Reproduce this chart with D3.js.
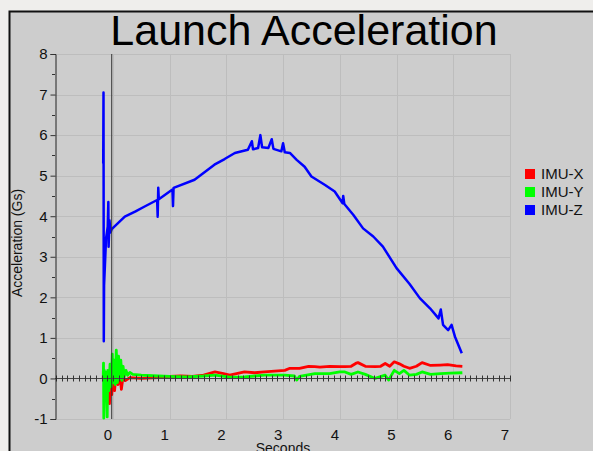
<!DOCTYPE html>
<head>
  <meta charset="utf-8">
  <title>Launch Acceleration</title>
  <script src="https://d3js.org/d3.v7.min.js"></script>
  <style>
    body { margin:0; background:#efeeec; overflow:hidden; }
    svg { display:block; font-family:"Liberation Sans", Arial, sans-serif; }
  </style>
</head>
<body>
  <svg width="593" height="451"></svg>
  <script>
    var width = 593;
    var height = 451;
    var margin = {top: 54, bottom: 32, left: 55, right: 83};

    var xTicks = [0, 1, 2, 3, 4, 5, 6, 7];
    var yTicks = [-1, 0, 1, 2, 3, 4, 5, 6, 7, 8];
    var seriesNames = ['IMU-X', 'IMU-Y', 'IMU-Z'];
    var seriesColors = ['#ff0000', '#00ff00', '#0000ff'];
    var launchTime = -0.02;

    // [seconds, Gs]
    var imuX = [[-0.17, 0.0], [-0.16, 0.15], [-0.14, -0.3], [-0.12, 0.1], [-0.1, -0.45], [-0.08, 0.1],
      [-0.06, -0.62], [-0.04, 0.05], [-0.02, -0.4], [0.0, 0.1], [0.03, -0.3], [0.06, 0.2], [0.09, -0.15],
      [0.12, 0.15], [0.15, -0.27], [0.18, 0.05], [0.22, -0.05], [0.3, 0.02], [0.5, 0.0], [0.8, 0.02],
      [1.0, 0.05], [1.2, 0.06], [1.4, 0.05], [1.6, 0.08], [1.8, 0.16], [1.95, 0.12], [2.06, 0.08],
      [2.32, 0.16], [2.5, 0.14], [2.67, 0.16], [2.85, 0.18], [3.03, 0.2], [3.12, 0.25], [3.29, 0.25],
      [3.45, 0.3], [3.56, 0.29], [3.65, 0.28], [3.82, 0.3], [4.0, 0.29], [4.09, 0.29], [4.2, 0.3],
      [4.28, 0.37], [4.32, 0.39], [4.45, 0.3], [4.62, 0.29], [4.72, 0.3], [4.8, 0.37], [4.88, 0.3],
      [4.96, 0.41], [5.05, 0.36], [5.13, 0.3], [5.23, 0.25], [5.35, 0.3], [5.45, 0.39], [5.6, 0.32],
      [5.77, 0.33], [5.9, 0.34], [6.05, 0.31], [6.16, 0.3]];
    var imuY = [[-0.17, 0.0], [-0.165, 0.38], [-0.16, -0.98], [-0.15, 0.2], [-0.14, -0.5], [-0.12, 0.15],
      [-0.1, -0.95], [-0.09, 0.2], [-0.07, -0.3], [-0.05, 0.35], [-0.03, -0.2], [-0.01, 0.6], [0.0, -0.1],
      [0.02, 0.45], [0.04, -0.15], [0.06, 0.7], [0.08, -0.1], [0.1, 0.55], [0.12, 0.0], [0.14, 0.45],
      [0.16, -0.05], [0.18, 0.3], [0.2, 0.05], [0.23, 0.2], [0.26, 0.08], [0.3, 0.15], [0.35, 0.1],
      [0.5, 0.08], [0.8, 0.06], [1.0, 0.05], [1.3, 0.04], [1.6, 0.06], [1.8, 0.08], [2.06, 0.03],
      [2.32, 0.04], [2.5, 0.06], [2.67, 0.08], [3.03, 0.08], [3.2, 0.06], [3.24, -0.04], [3.29, 0.05],
      [3.56, 0.12], [3.82, 0.12], [4.0, 0.16], [4.09, 0.16], [4.2, 0.1], [4.32, 0.16], [4.45, 0.1],
      [4.62, 0.0], [4.8, 0.08], [4.86, -0.04], [4.96, 0.2], [5.05, 0.12], [5.13, 0.2], [5.23, 0.08],
      [5.35, 0.1], [5.45, 0.16], [5.6, 0.1], [5.77, 0.12], [5.95, 0.13], [6.16, 0.14]];
    var imuZ = [[-0.17, 5.3], [-0.165, 7.05], [-0.16, 0.92], [-0.155, 2.3], [-0.12, 3.45], [-0.09, 3.75],
      [-0.08, 4.35], [-0.075, 3.25], [-0.06, 3.9], [-0.04, 3.6], [-0.02, 3.68], [0.21, 3.99], [0.4, 4.12],
      [0.56, 4.24], [0.78, 4.4], [0.79, 3.99], [0.8, 4.7], [0.81, 4.42], [1.05, 4.66], [1.06, 4.25],
      [1.07, 4.7], [1.44, 4.9], [1.79, 5.27], [1.97, 5.41], [2.15, 5.56], [2.38, 5.64], [2.45, 5.85],
      [2.47, 5.65], [2.56, 5.68], [2.6, 6.0], [2.63, 5.7], [2.74, 5.68], [2.8, 5.9], [2.83, 5.66],
      [2.97, 5.6], [3.0, 5.8], [3.03, 5.58], [3.12, 5.56], [3.24, 5.39], [3.38, 5.22], [3.5, 4.98],
      [3.74, 4.77], [3.91, 4.61], [4.05, 4.32], [4.06, 4.5], [4.08, 4.3], [4.24, 4.03], [4.41, 3.7],
      [4.59, 3.5], [4.76, 3.25], [5.0, 2.72], [5.23, 2.33], [5.41, 1.98], [5.59, 1.73], [5.74, 1.48],
      [5.78, 1.7], [5.82, 1.32], [5.91, 1.19], [5.97, 1.32], [6.03, 1.03], [6.15, 0.62]];
    var series = [imuX, imuY, imuZ];
    var strokeWidths = [2.8, 2.8, 2.5];

    var svg = d3.select('svg');

    // grey panel with dark top/left edge
    svg.append('rect').attr('x', 9).attr('y', 11).attr('width', width).attr('height', height)
      .attr('fill', '#cdcdcd');
    svg.append('path').attr('d', 'M9.5,' + height + 'V11.5H' + width)
      .attr('fill', 'none').attr('stroke', '#111').attr('stroke-width', 2);

    var xScale = d3.scaleLinear()
      .domain([-1.02, 7])
      .range([margin.left, width - margin.right]);
    var yScale = d3.scaleLinear()
      .domain([-1, 8])
      .range([height - margin.bottom, margin.top]);

    // grid
    var grid = svg.append('g').attr('stroke', '#bdbdbd').attr('stroke-width', 1);
    grid.selectAll('.gx').data(xTicks).enter().append('line')
      .attr('x1', d => Math.round(xScale(d)) + 0.5).attr('x2', d => Math.round(xScale(d)) + 0.5)
      .attr('y1', yScale(8)).attr('y2', yScale(-1));
    grid.selectAll('.gy').data(yTicks).enter().append('line')
      .attr('y1', d => Math.round(yScale(d)) + 0.5).attr('y2', d => Math.round(yScale(d)) + 0.5)
      .attr('x1', xScale.range()[0]).attr('x2', xScale.range()[1]);

    // data lines
    var line = d3.line()
      .x(d => xScale(d[0]))
      .y(d => yScale(d[1]));
    series.forEach((s, i) => {
      svg.append('path')
        .attr('d', line(s))
        .attr('fill', 'none')
        .attr('stroke', seriesColors[i])
        .attr('stroke-width', strokeWidths[i])
        .attr('stroke-linejoin', 'round');
    });

    // launch marker
    svg.append('line')
      .attr('x1', xScale(launchTime)).attr('x2', xScale(launchTime))
      .attr('y1', yScale(8)).attr('y2', yScale(-1))
      .attr('stroke', '#333').attr('stroke-width', 1);

    // zero line with minor ticks every 0.1 s
    var y0 = Math.round(yScale(0)) + 0.5;
    svg.append('line')
      .attr('x1', xScale.range()[0]).attr('x2', xScale.range()[1])
      .attr('y1', y0).attr('y2', y0)
      .attr('stroke', '#444').attr('stroke-width', 1);
    var minor = d3.range(-10, 71).map(d => d / 10);
    svg.append('g').selectAll('line').data(minor).enter().append('line')
      .attr('x1', d => Math.round(xScale(d)) + 0.5).attr('x2', d => Math.round(xScale(d)) + 0.5)
      .attr('y1', y0 - 3).attr('y2', y0 + 3)
      .attr('stroke', '#333').attr('stroke-width', 1);

    // y axis
    var yAxis = d3.axisLeft(yScale)
      .tickValues(yTicks)
      .tickFormat(d => String(d))
      .tickSize(5)
      .tickPadding(3);
    var gy = svg.append('g')
      .attr('transform', 'translate(' + [margin.left + 0.5, 0] + ')')
      .call(yAxis);
    gy.select('.domain').attr('stroke', '#222');
    gy.selectAll('.tick line').attr('stroke', '#333');
    gy.selectAll('text').attr('font-size', 15).attr('fill', '#111')
      .attr('font-family', '"Liberation Sans", Arial, sans-serif');
    svg.append('g').selectAll('line').data(d3.range(-0.5, 8, 1)).enter().append('line')
      .attr('x1', margin.left - 3).attr('x2', margin.left)
      .attr('y1', d => Math.round(yScale(d)) + 0.5).attr('y2', d => Math.round(yScale(d)) + 0.5)
      .attr('stroke', '#333');

    // x tick labels along the bottom
    var xAxis = d3.axisBottom(xScale)
      .tickValues(xTicks)
      .tickFormat(d => String(d))
      .tickSize(0)
      .tickPadding(10);
    var gx = svg.append('g')
      .attr('transform', 'translate(' + [-5.5, yScale(-1)] + ')')
      .call(xAxis);
    gx.select('.domain').remove();
    gx.selectAll('text').attr('font-size', 15).attr('fill', '#111')
      .attr('font-family', '"Liberation Sans", Arial, sans-serif');

    // titles
    svg.append('text')
      .attr('x', 304).attr('y', 45)
      .attr('text-anchor', 'middle')
      .attr('font-size', 43)
      .attr('fill', '#000')
      .text('Launch Acceleration');
    svg.append('text')
      .attr('transform', 'translate(22,243) rotate(-90)')
      .attr('text-anchor', 'middle')
      .attr('font-size', 14)
      .attr('fill', '#111')
      .text('Acceleration (Gs)');
    svg.append('text')
      .attr('x', 283).attr('y', 453)
      .attr('text-anchor', 'middle')
      .attr('font-size', 14)
      .attr('fill', '#111')
      .text('Seconds');

    // legend
    var legend = svg.append('g').attr('transform', 'translate(525,169)');
    var items = legend.selectAll('g').data(seriesNames).enter().append('g')
      .attr('transform', (d, i) => 'translate(0,' + i * 18 + ')');
    items.append('rect')
      .attr('width', 10).attr('height', 10)
      .attr('fill', (d, i) => seriesColors[i]);
    items.append('text')
      .attr('x', 16).attr('y', 10)
      .attr('font-size', 15)
      .attr('fill', '#111')
      .text(d => d);
  </script>
</body>
